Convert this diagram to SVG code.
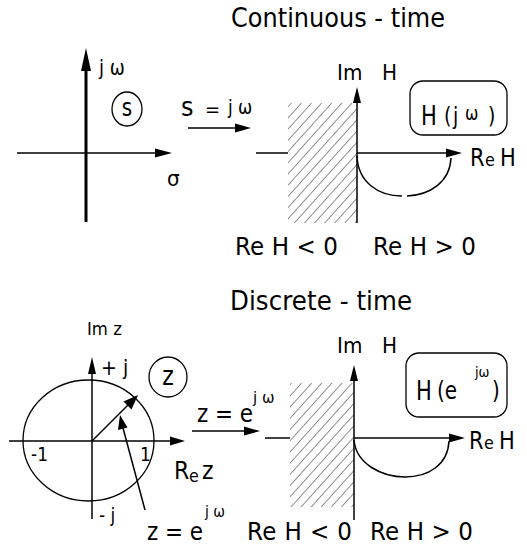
<svg xmlns="http://www.w3.org/2000/svg" width="527" height="548" viewBox="0 0 527 548">
<defs>
<style>
text{font-family:"DejaVu Sans","Liberation Sans",sans-serif;fill:#000}
.ln{stroke:#000;stroke-width:1.5;fill:none}
.thick{stroke:#000;stroke-width:3;fill:none}
.ah{fill:#000;stroke:none}
.box{fill:none;stroke:#000;stroke-width:1.3}
.hatch{fill:url(#hp);stroke:none}
</style>
<pattern id="hp" patternUnits="userSpaceOnUse" width="7.5" height="7.5" patternTransform="rotate(42)">
<line x1="0" y1="0" x2="0" y2="7.5" stroke="#222" stroke-width="1"/>
</pattern>
</defs>
<rect width="527" height="548" fill="#fff"/>

<!-- Titles -->
<g id="title-continuous"><text transform="translate(231 27) scale(1 1.1)" font-size="24" textLength="214">Continuous - time</text></g>
<g id="title-discrete"><text transform="translate(230 310) scale(1 1.1)" font-size="24.5" textLength="182">Discrete - time</text></g>

<!-- Top-left s-plane -->
<g id="s-plane">
<line class="thick" x1="86" y1="66" x2="86" y2="222"/>
<polygon class="ah" points="86,48 81,71 91,71"/>
<line class="ln" x1="17" y1="153" x2="158" y2="153"/>
<polygon class="ah" points="172,153 155,148.5 155,157.5"/>
<text transform="translate(99 75) scale(1 1.15)" font-size="18">j ω</text>
<text transform="translate(167 186) scale(1 1.1)" font-size="20">σ</text>
</g>
<g id="s-circle">
<ellipse cx="127" cy="109" rx="15" ry="17" fill="none" stroke="#000" stroke-width="1.3"/>
<text transform="translate(127 116) scale(1 1.2)" font-size="20" text-anchor="middle">s</text>
</g>

<!-- Top mapping label -->
<g id="map-s">
<text transform="translate(181 116) scale(1 1.1)" font-size="24">s</text>
<text transform="translate(205 116) scale(1 1.1)" font-size="18">=</text>
<text transform="translate(228 114) scale(1 1.1)" font-size="17">j ω</text>
</g>

<!-- Top-right H plane -->
<g id="H-plane-ct">
<rect class="hatch" x="288" y="103" width="69" height="120"/>
<line class="ln" x1="357" y1="100" x2="357" y2="223"/>
<polygon class="ah" points="357,87 353,103 361,103"/>
<line class="ln" x1="256" y1="153" x2="288" y2="153"/>
<line class="ln" x1="357" y1="153" x2="448" y2="153"/>
<polygon class="ah" points="462,153 446,148.5 446,157.5"/>
<text transform="translate(337 80) scale(1 1.1)" font-size="20">Im</text>
<text transform="translate(382 80) scale(1 1.1)" font-size="20">H</text>
<text transform="translate(470 166) scale(1 1.15)" font-size="21">R</text>
<text transform="translate(485 166) scale(1 1.15)" font-size="16">e</text>
<text transform="translate(500 166) scale(1 1.15)" font-size="21">H</text>
<text transform="translate(235 255) scale(1 1.1)" font-size="23" textLength="103">Re H &lt; 0</text>
<text transform="translate(373 255) scale(1 1.1)" font-size="23" textLength="103">Re H &gt; 0</text>
</g>
<g id="Hjw-box">
<rect class="box" x="410" y="81" width="97" height="54" rx="13"/>
<text transform="translate(421 125) scale(1 1.25)" font-size="21">H</text>
<text transform="translate(444 124) scale(1 1.25)" font-size="19">(</text>
<text transform="translate(453 124) scale(1 1.25)" font-size="19">j</text>
<text transform="translate(465 120) scale(1 1.2)" font-size="16">ω</text>
<text transform="translate(488 124) scale(1 1.25)" font-size="19">)</text>
</g>

<!-- Bottom-left z-plane -->
<g id="z-plane">
<ellipse cx="88.5" cy="440.5" rx="65.5" ry="60.5" fill="none" stroke="#000" stroke-width="1.3"/>
<line class="ln" x1="92" y1="372" x2="92" y2="519"/>
<polygon class="ah" points="92,357 88,374 96,374"/>
<line class="ln" x1="9" y1="441" x2="172" y2="441"/>
<polygon class="ah" points="185,441 170,436.5 170,445.5"/>
<line class="ln" x1="92" y1="441" x2="128" y2="405"/>
<polygon class="ah" points="138,395 123.5,401.5 131.5,409.5"/>
<line class="ln" x1="145" y1="510" x2="123" y2="428"/>
<polygon class="ah" points="120,415 118,430 127.5,427.5"/>
<text transform="translate(87 335) scale(1 1.1)" font-size="16.5">Im z</text>
<text transform="translate(101 375) scale(1 1.1)" font-size="19">+ j</text>
<text transform="translate(31 461) scale(1 1.1)" font-size="17">-1</text>
<text transform="translate(140 461) scale(1 1.1)" font-size="17">1</text>
<text transform="translate(174 479) scale(1 1.15)" font-size="22">R</text>
<text transform="translate(189 482) scale(1 1.15)" font-size="16">e</text>
<text transform="translate(202 479) scale(1 1.15)" font-size="22">z</text>
<text transform="translate(99 522) scale(1 1.1)" font-size="17">- j</text>
<text transform="translate(147 540) scale(1 1.15)" font-size="21.5" textLength="56">z = e</text>
<text transform="translate(205 517) scale(1 1.1)" font-size="14">j ω</text>
</g>
<g id="z-circle">
<ellipse cx="168" cy="377" rx="19" ry="20" fill="none" stroke="#000" stroke-width="1.3"/>
<text transform="translate(168 385) scale(1 1.2)" font-size="22" text-anchor="middle">z</text>
</g>

<!-- Bottom mapping label -->
<g id="map-z">
<text transform="translate(197 422) scale(1 1.15)" font-size="21.5" textLength="56">z = e</text>
<text transform="translate(253 403) scale(1 1.1)" font-size="15">j ω</text>
</g>

<!-- Bottom-right H plane -->
<g id="H-plane-dt">
<rect class="hatch" x="290" y="383" width="64" height="124"/>
<line class="ln" x1="354" y1="378" x2="354" y2="520"/>
<polygon class="ah" points="354,365 350,381 358,381"/>
<line class="ln" x1="265" y1="438" x2="290" y2="438"/>
<line class="ln" x1="354" y1="438" x2="451" y2="438"/>
<polygon class="ah" points="465,438 449,433.5 449,442.5"/>
<text transform="translate(337 353) scale(1 1.1)" font-size="20">Im</text>
<text transform="translate(382 353) scale(1 1.1)" font-size="20">H</text>
<text transform="translate(469 449) scale(1 1.15)" font-size="21">R</text>
<text transform="translate(484 449) scale(1 1.15)" font-size="16">e</text>
<text transform="translate(499 449) scale(1 1.15)" font-size="21">H</text>
<text transform="translate(247 540) scale(1 1.1)" font-size="23" textLength="105">Re H &lt; 0</text>
<text transform="translate(370 540) scale(1 1.1)" font-size="23" textLength="103">Re H &gt; 0</text>
</g>
<g id="Hejw-box">
<rect class="box" x="406" y="353" width="101" height="64" rx="13"/>
<text transform="translate(416 400) scale(1 1.25)" font-size="21">H</text>
<text transform="translate(437 399) scale(1 1.25)" font-size="20">(e</text>
<text transform="translate(475 377) scale(1 1.15)" font-size="13">jω</text>
<text transform="translate(492 399) scale(1 1.25)" font-size="20">)</text>
</g>

<!-- Connectors (curves and mapping arrows) -->
<g id="connectors">
<line class="ln" x1="188" y1="128" x2="237" y2="128"/>
<polygon class="ah" points="251,128 235,123.5 235,132.5"/>
<line class="ln" x1="192" y1="431" x2="246" y2="431"/>
<polygon class="ah" points="260,431 244,426.5 244,435.5"/>
<path class="ln" d="M357,156 C358,182 378,196 402,196"/>
<path class="ln" d="M407,196 C430,195 450,182 451,158"/>
<path class="ln" d="M354,440 C356,464 382,477 405,477 C428,477 448,465 449,441"/>
</g>
</svg>
